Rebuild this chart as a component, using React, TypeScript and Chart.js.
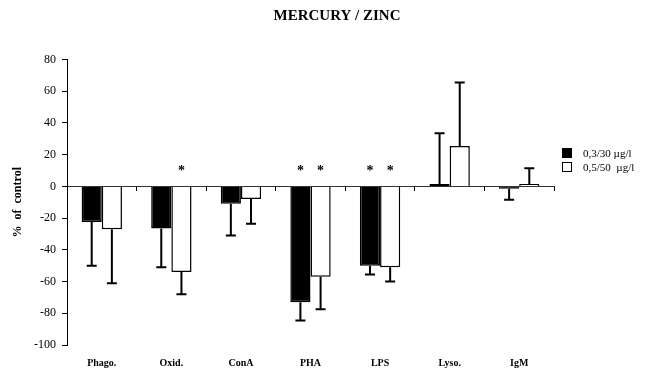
import React, { useEffect, useRef } from 'react';
import { Chart, registerables } from 'chart.js';

Chart.register(...registerables);

const categories = ['Phago.', 'Oxid.', 'ConA', 'PHA', 'LPS', 'Lyso.', 'IgM'];
const seriesLabels = ['0,3/30 µg/l', '0,5/50  µg/l'];
const lowDose = [-22.5, -26.5, -11, -73, -50, 1.5, -1.5];
const lowDoseErr = [27.5, 24.5, 20, 11.5, 5.5, 32, 7];
const lowDoseSig = [false, false, false, true, true, false, false];
const highDose = [-27, -54, -8, -57, -51, 25.5, 1.5];
const highDoseErr = [34, 14, 15.5, 20.5, 9, 40, 10];
const highDoseSig = [false, true, false, true, true, false, false];
const seriesFill = ['#000000', '#ffffff'];
const yMin = -100;
const yMax = 80;
const yStep = 20;
const chartTitle = 'MERCURY / ZINC';
const yTitle = '%  of  control';

const SERIF = "'Liberation Serif', 'Times New Roman', serif";

const errorBarPlugin = {
  id: 'errorBarsAndStars',
  afterDatasetsDraw(chart: any) {
    const ctx = chart.ctx;
    const y = chart.scales.y;
    chart.data.datasets.forEach((ds: any, d: number) => {
      const meta = chart.getDatasetMeta(d);
      meta.data.forEach((bar: any, i: number) => {
        const v = ds.data[i];
        const e = ds.errors[i];
        const end = v < 0 ? v - e : v + e;
        const x = bar.x;
        const y0 = y.getPixelForValue(v);
        const y1 = y.getPixelForValue(end);
        ctx.save();
        ctx.strokeStyle = '#000';
        ctx.lineWidth = 2;
        ctx.beginPath();
        ctx.moveTo(x, y0);
        ctx.lineTo(x, y1);
        ctx.moveTo(x - 5, y1);
        ctx.lineTo(x + 5, y1);
        ctx.stroke();
        if (ds.sig[i]) {
          ctx.fillStyle = '#000';
          ctx.font = `bold 14px ${SERIF}`;
          ctx.textAlign = 'center';
          ctx.textBaseline = 'middle';
          ctx.fillText('*', x, y.getPixelForValue(9.5));
        }
        ctx.restore();
      });
    });
  },
};

export default function App() {
  const ref = useRef<HTMLCanvasElement | null>(null);

  useEffect(() => {
    document.body.style.margin = '0';
    if (!ref.current) return;
    const chart = new Chart(ref.current, {
      type: 'bar',
      data: {
        labels: categories,
        datasets: [
          {
            label: seriesLabels[0],
            data: lowDose,
            errors: lowDoseErr,
            sig: lowDoseSig,
            backgroundColor: seriesFill[0],
            borderColor: '#000',
            borderWidth: 1.5,
          } as any,
          {
            label: seriesLabels[1],
            data: highDose,
            errors: highDoseErr,
            sig: highDoseSig,
            backgroundColor: seriesFill[1],
            borderColor: '#000',
            borderWidth: 1.5,
          } as any,
        ],
      },
      options: {
        responsive: false,
        animation: false,
        categoryPercentage: 0.58,
        barPercentage: 1.0,
        layout: { padding: { left: 0, right: -24, top: 0, bottom: 0 } },
        plugins: {
          legend: { display: false },
          tooltip: { enabled: false },
          title: {
            display: true,
            text: chartTitle,
            color: '#000',
            font: { family: SERIF, size: 15, weight: 'bold' },
            padding: { top: 7.5, bottom: 34 },
          },
        },
        scales: {
          x: {
            type: 'category',
            position: 'bottom',
            grid: { display: false, drawTicks: false },
            border: { display: false },
            ticks: {
              color: '#000',
              padding: 12,
              font: { family: SERIF, size: 10, weight: 'bold' },
            },
            afterFit: (s: any) => {
              s.height = 30;
            },
          },
          x2: {
            type: 'category',
            labels: categories,
            position: { y: 0 } as any,
            offset: true,
            grid: {
              display: true,
              offset: true,
              drawOnChartArea: false,
              tickLength: 4,
              color: '#000',
            },
            border: { display: true, color: '#333', width: 1 },
            ticks: { display: false },
            afterFit: (s: any) => {
              s.height = 0;
            },
          },
          y: {
            type: 'linear',
            position: 'left',
            min: yMin,
            max: yMax,
            afterFit: (s: any) => {
              s.width = 67;
            },
            ticks: {
              stepSize: yStep,
              color: '#000',
              padding: 6,
              font: { family: SERIF, size: 12 },
            },
            grid: {
              display: true,
              drawOnChartArea: false,
              tickLength: 5,
              color: '#000',
            },
            border: { display: true, color: '#000', width: 1 },
            title: {
              display: true,
              text: yTitle,
              color: '#000',
              font: { family: SERIF, size: 12, weight: 'bold' },
              padding: { top: 11, bottom: 4 },
            },
          },
          yR: {
            type: 'linear',
            position: 'right',
            display: true,
            grid: { display: false, drawTicks: false },
            border: { display: false },
            ticks: { display: false },
            afterFit: (s: any) => {
              s.width = 120;
            },
          },
        },
      } as any,
      plugins: [errorBarPlugin],
    });
    return () => chart.destroy();
  }, []);

  const legendRow = (i: number, top: number) => (
    <div
      key={i}
      style={{
        position: 'absolute',
        left: 562,
        top,
        height: 14,
        display: 'flex',
        alignItems: 'center',
        fontFamily: SERIF,
        fontSize: 11,
        color: '#000',
        whiteSpace: 'pre',
      }}
    >
      <span
        style={{
          display: 'inline-block',
          width: 10,
          height: 10,
          boxSizing: 'border-box',
          border: '1px solid #000',
          background: seriesFill[i],
          marginRight: 11,
        }}
      />
      <span>{seriesLabels[i]}</span>
    </div>
  );

  return (
    <div style={{ position: 'relative', width: 650, height: 375, overflow: 'hidden' }}>
      <canvas ref={ref} width={650} height={375} style={{ display: 'block' }} />
      {legendRow(0, 146)}
      {legendRow(1, 160)}
    </div>
  );
}
